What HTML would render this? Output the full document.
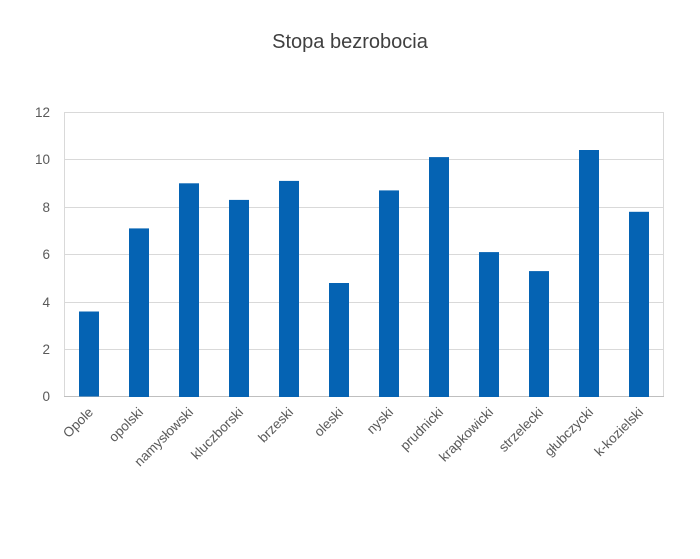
<!DOCTYPE html>
<html><head><meta charset="utf-8"><style>body{margin:0;background:#fff}</style></head>
<body>
<svg width="700" height="554" xmlns="http://www.w3.org/2000/svg" font-family="Liberation Sans, sans-serif">
<rect width="700" height="554" fill="#fff"/>
<text x="350" y="48" text-anchor="middle" font-size="20" fill="#404040">Stopa bezrobocia</text>
<g stroke="#d9d9d9" stroke-width="1">
<line x1="64" y1="112.5" x2="664" y2="112.5"/>
<line x1="64" y1="159.5" x2="664" y2="159.5"/>
<line x1="64" y1="207.5" x2="664" y2="207.5"/>
<line x1="64" y1="254.5" x2="664" y2="254.5"/>
<line x1="64" y1="302.5" x2="664" y2="302.5"/>
<line x1="64" y1="349.5" x2="664" y2="349.5"/>
<line x1="64.5" y1="112" x2="64.5" y2="397"/>
<line x1="663.5" y1="112" x2="663.5" y2="397"/>
</g>
<line x1="64" y1="396.5" x2="664" y2="396.5" stroke="#bfbfbf"/>
<g font-size="13.5" fill="#595959" text-anchor="end">
<text x="50" y="117">12</text><text x="50" y="164">10</text><text x="50" y="212">8</text>
<text x="50" y="259">6</text><text x="50" y="307">4</text><text x="50" y="354">2</text><text x="50" y="401">0</text>
</g>
<g fill="#0563b3">
<rect x="79" y="311.5" width="20" height="85"/>
<rect x="129" y="228.4" width="20" height="168.6"/>
<rect x="179" y="183.3" width="20" height="213.7"/>
<rect x="229" y="199.9" width="20" height="197.1"/>
<rect x="279" y="180.9" width="20" height="216.1"/>
<rect x="329" y="283" width="20" height="114"/>
<rect x="379" y="190.4" width="20" height="206.6"/>
<rect x="429" y="157.1" width="20" height="239.9"/>
<rect x="479" y="252.1" width="20" height="144.9"/>
<rect x="529" y="271.1" width="20" height="125.9"/>
<rect x="579" y="150" width="20" height="247"/>
<rect x="629" y="211.8" width="20" height="185.2"/>
</g>
<g font-size="13.5" fill="#595959" text-anchor="end">
<text transform="translate(94,413) rotate(-45)">Opole</text>
<text transform="translate(144,413) rotate(-45)">opolski</text>
<text transform="translate(194,413) rotate(-45)">namysłowski</text>
<text transform="translate(244,413) rotate(-45)">kluczborski</text>
<text transform="translate(294,413) rotate(-45)">brzeski</text>
<text transform="translate(344,413) rotate(-45)">oleski</text>
<text transform="translate(394,413) rotate(-45)">nyski</text>
<text transform="translate(444,413) rotate(-45)">prudnicki</text>
<text transform="translate(494,413) rotate(-45)">krapkowicki</text>
<text transform="translate(544,413) rotate(-45)">strzelecki</text>
<text transform="translate(594,413) rotate(-45)">głubczycki</text>
<text transform="translate(644,413) rotate(-45)">k-kozielski</text>
</g>
</svg>
</body></html>
